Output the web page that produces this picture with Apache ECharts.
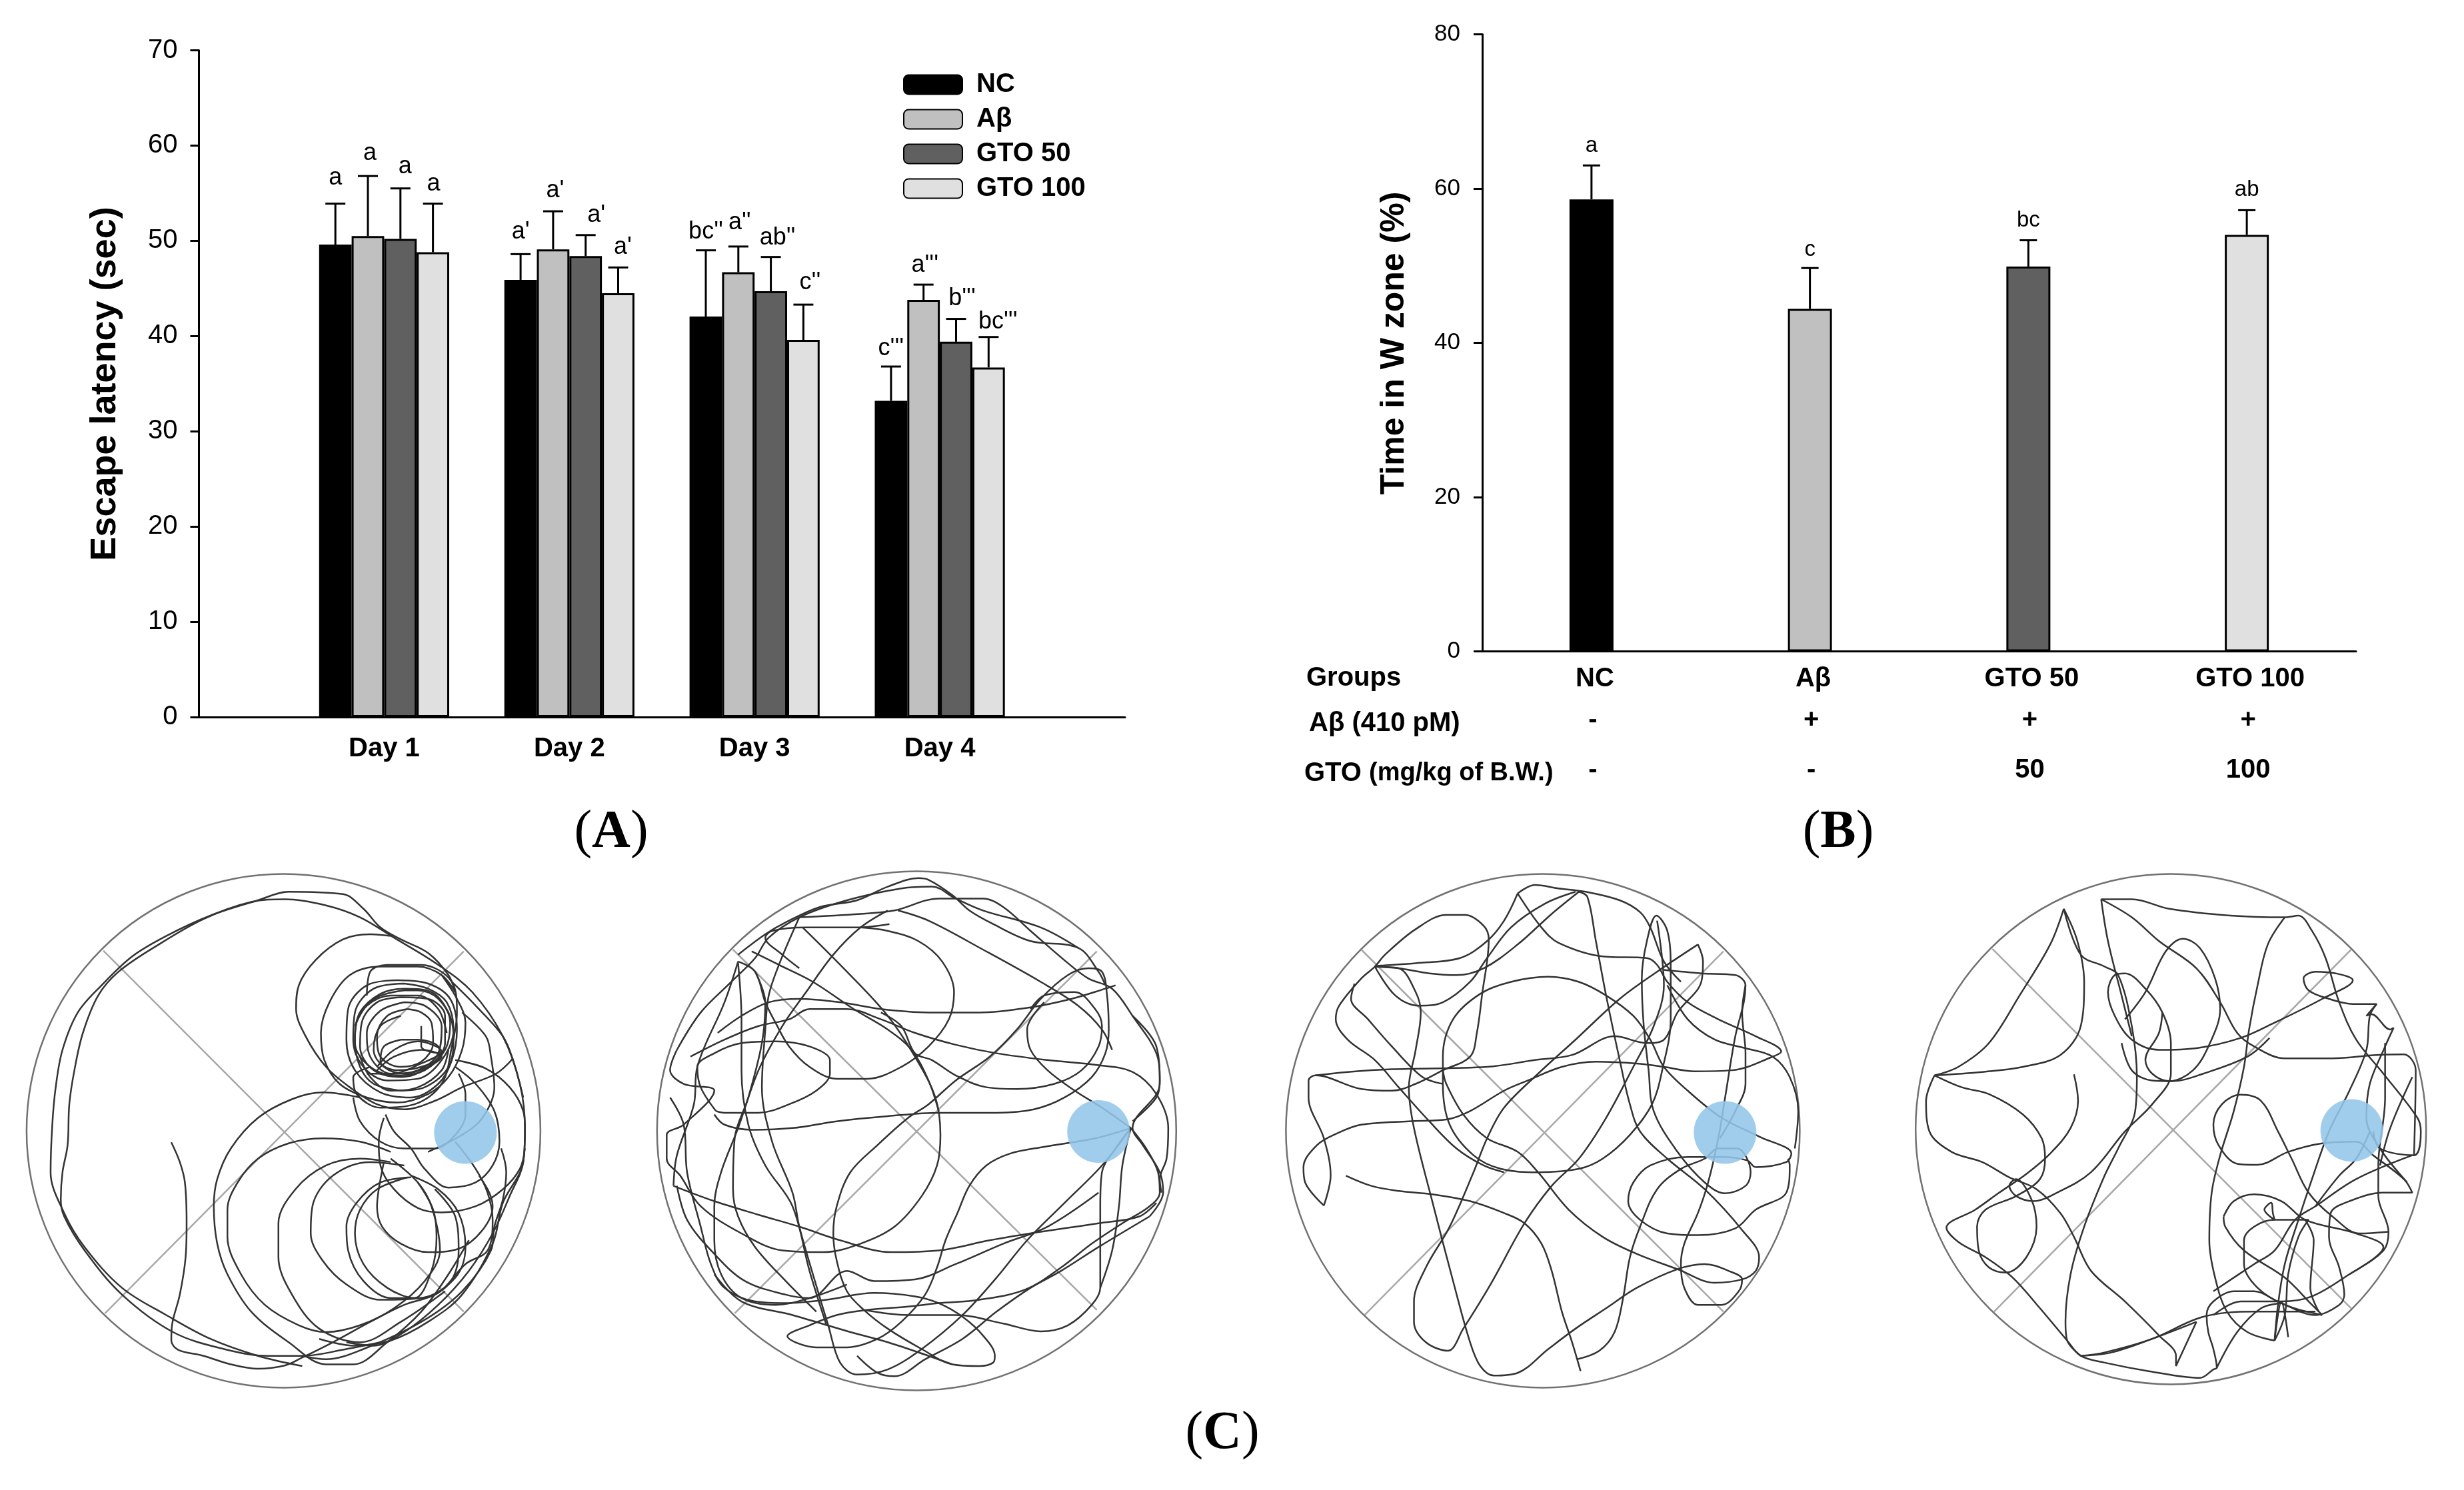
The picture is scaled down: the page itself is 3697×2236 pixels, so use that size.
<!DOCTYPE html>
<html><head><meta charset="utf-8">
<style>html,body{margin:0;padding:0;background:#fff}#c{width:3697px;height:2236px}</style>
<script src="https://cdn.jsdelivr.net/npm/echarts@6/dist/echarts.min.js"></script>
</head><body><div id="c"></div>
<script>
// ---------- Panel A data ----------
const days = ['', 'Day 1', 'Day 2', 'Day 3', 'Day 4', ''];
const groupNames = ['NC', 'Aβ', 'GTO 50', 'GTO 100'];
const latencyNC = [49.6, 45.9, 42.05, 33.2];
const latencyAb = [50.5, 49.1, 46.7, 43.8];
const latencyG50 = [50.2, 48.4, 44.7, 39.4];
const latencyG100 = [48.8, 44.5, 39.6, 36.7];
const latencyErrTopNC = [53.9, 48.6, 49.0, 36.8];
const latencyErrTopAb = [56.8, 53.1, 49.4, 45.4];
const latencyErrTopG50 = [55.5, 50.6, 48.3, 41.8];
const latencyErrTopG100 = [53.9, 47.2, 43.3, 39.9];
const lettersNC = ['a', "a'", "bc''", "c'''"];
const lettersAb = ['a', "a'", "a''", "a'''"];
const lettersG50 = ['a', "a'", "ab''", "b'''"];
const lettersG100 = ['a', "a'", "c''", "bc'''"];
const letterValNC = [56.6, 50.9, 50.9, 38.7];
const letterValAb = [59.2, 55.3, 51.9, 47.4];
const letterValG50 = [57.8, 52.7, 50.3, 43.9];
const letterValG100 = [56.0, 49.3, 45.6, 41.5];
// ---------- Panel B data ----------
const rowGroups = ['NC', 'Aβ', 'GTO 50', 'GTO 100'];
const rowAb = ['-', '+', '+', '+'];
const rowGTO = ['-', '-', '50', '100'];
const timeInZone = [58.6, 44.4, 49.9, 54.0];
const timeErrTop = [63.0, 49.7, 53.3, 57.2];
const timeLetters = ['a', 'c', 'bc', 'ab'];
const timeLetterVal = [65.5, 52.1, 55.9, 59.8];
// ---------- Panel C data: arena units are image-read track coordinates ----------
const arenaCentres = [[775, 778], [765, 778], [774, 778], [755, 773]];
const platformCentres = [[1310, 783], [1300, 780], [1310, 783], [1287, 777]];
const crossLines = [
  [[[245,248],[1305,1310]], [[1305,250],[250,1315]]],
  [[[225,245],[1295,1305]], [[1295,250],[230,1315]]],
  [[[240,245],[1305,1310]], [[1305,250],[250,1320]]],
  [[[230,243],[1285,1300]], [[1285,245],[235,1310]]]
];
const track1 = [
 [[445,812],[470,870],[485,930],[490,1050],[487,1150],[470,1260],[447,1350],[445,1395],[465,1422],[540,1440],[620,1465],[700,1478],[780,1468],[830,1445],[920,1400],[1030,1340],[1130,1290],[1230,1255],[1310,1170],[1375,1130],[1390,1040],[1375,960],[1340,890],[1280,810]],
 [[830,1470],[700,1440],[560,1390],[430,1320],[300,1240],[190,1120],[130,1020],[90,900],[95,760],[105,650],[125,540],[170,430],[240,350],[330,265],[430,205],[560,145],[700,100],[790,75],[950,82],[1010,125],[1060,180],[1120,215],[1200,255],[1260,320],[1280,370]],
 [[1060,1400],[960,1420],[830,1440],[730,1440],[600,1420],[450,1370],[300,1260],[190,1130],[130,1030],[120,980],[125,900],[140,820],[145,700],[160,600],[185,490],[230,380],[290,310],[400,235],[540,155],[680,105],[780,97],[900,115],[1000,150],[1100,210],[1230,290],[1330,370],[1420,500],[1470,640],[1485,770],[1480,870],[1440,970],[1390,1080],[1320,1190],[1230,1290],[1130,1370],[1040,1410],[960,1400]],
 [[1000,680],[890,665],[800,685],[700,740],[620,830],[580,920],[570,1000],[580,1110],[610,1200],[680,1310],[790,1400],[900,1465],[980,1465],[1080,1400],[1180,1310],[1260,1200],[1320,1100]],
 [[1090,840],[1000,810],[890,800],[790,815],[700,860],[640,930],[610,1010],[610,1090],[650,1200],[720,1290],[820,1350],[900,1370],[1000,1350],[1100,1300],[1190,1220],[1235,1130],[1210,1000],[1170,930],[1090,860]],
 [[1090,870],[1000,860],[900,880],[810,950],[760,1050],[760,1150],[800,1260],[880,1360],[1000,1400],[1120,1340],[1250,1250]],
 [[1130,880],[1030,870],[920,910],[860,1000],[855,1080],[890,1160],[960,1230],[1060,1275],[1180,1270],[1280,1210],[1310,1120],[1290,1020],[1230,950],[1150,910]],
 [[1150,915],[1060,930],[990,990],[960,1060],[965,1130],[1010,1220],[1090,1270],[1170,1270],[1260,1230],[1290,1130],[1280,1030],[1220,950]],
 [[1140,915],[1050,950],[1000,1010],[985,1080],[1010,1170],[1080,1240],[1160,1270],[1210,1190],[1225,1090],[1215,1010],[1170,930]],
 [[1070,870],[1055,950],[1050,1000],[1065,1060],[1120,1110],[1200,1135],[1290,1125],[1360,1070],[1390,1000],[1380,960],[1350,910]],
 [[1070,740],[1055,810],[1060,880],[1100,950],[1170,1005],[1240,1018],[1340,1000],[1420,950],[1470,890],[1485,830]],
 [[1075,730],[1100,780],[1150,830],[1190,890],[1260,945],[1340,930],[1390,880],[1410,810],[1395,720],[1340,640],[1280,590]],
 [[1200,840],[1300,790],[1360,740],[1395,650],[1385,560],[1370,500],[1300,430]],
 [[980,680],[1000,750],[1060,810],[1130,830],[1220,830],[1280,790],[1310,730],[1310,670],[1290,610]],
 [[1090,205],[1030,200],[950,215],[870,275],[820,350],[812,420],[840,500],[900,590],[970,650],[1050,700],[1130,715],[1220,690],[1300,650],[1400,610],[1450,565]],
 [[1280,370],[1240,320],[1170,295],[1060,295],[970,320],[910,400],[885,490],[895,570],[940,640],[1020,680],[1110,695],[1200,670],[1260,620],[1300,540],[1310,460],[1285,390],[1240,320]],
 [[1130,345],[1040,360],[985,430],[980,510],[1010,590],[1080,630],[1170,625],[1240,570],[1275,480],[1255,400],[1200,360],[1130,345]],
 [[1130,365],[1050,385],[995,440],[985,520],[1030,590],[1110,615],[1190,600],[1250,540],[1265,460],[1230,390],[1170,365],[1130,365]],
 [[1120,385],[1050,400],[1005,460],[1000,530],[1040,600],[1120,620],[1200,590],[1250,520],[1250,440],[1200,390],[1120,385]],
 [[1130,400],[1060,425],[1020,490],[1030,560],[1090,610],[1170,600],[1230,550],[1240,470],[1190,410],[1130,400]],
 [[1120,440],[1060,470],[1040,540],[1070,590],[1130,610],[1200,590],[1240,560],[1180,540],[1100,560],[1050,600]],
 [[1050,590],[1100,540],[1170,515],[1240,545],[1180,580],[1090,610],[1020,610]],
 [[1020,380],[1030,310],[1080,290],[1180,290],[1270,340],[1285,430],[1270,530],[1240,640],[1160,700],[1060,710],[990,670],[980,620],[1030,590]],
 [[1120,660],[1040,640],[1000,590],[985,510],[1000,430],[1060,375],[1130,360],[1210,370],[1260,430],[1275,500],[1260,590],[1190,650],[1120,660]],
 [[1110,335],[1020,350],[965,420],[960,510],[985,600],[1060,665],[1150,680],[1230,640],[1270,570],[1285,480],[1265,390],[1200,345],[1110,335]],
 [[1140,420],[1080,440],[1050,500],[1060,560],[1120,590],[1180,575],[1215,520],[1210,460],[1180,430],[1140,420]],
 [[1120,510],[1070,530],[1060,575],[1110,600],[1180,590],[1235,560],[1230,530],[1170,510],[1120,510]],
 [[1000,560],[1030,620],[1090,660],[1170,650],[1240,600],[1260,540]],
 [[985,470],[1020,410],[1090,380],[1170,380],[1230,420],[1255,490]],
 [[1180,470],[1180,530],[1230,550]],
 [[1280,570],[1370,595],[1440,650],[1480,720],[1485,770]],
 [[1270,340],[1340,410],[1420,500],[1450,570],[1480,680]],
 [[1485,770],[1480,870],[1420,990],[1390,1110],[1300,1260],[1200,1340],[1090,1395],[980,1410],[880,1390]],
 [[1415,830],[1430,900],[1420,980],[1395,1060],[1385,1130],[1300,1250],[1180,1340],[1010,1420],[900,1450],[830,1440]]
];
const track2 = [
 [[1395,770],[1290,800],[1140,825],[1040,845],[970,880],[920,940],[885,1020],[850,1100],[825,1180],[790,1260],[720,1340],[650,1390],[560,1415],[470,1415],[385,1382],[450,1350],[530,1320],[620,1305],[740,1295],[830,1285],[950,1275],[1085,1245],[1190,1180],[1280,1110],[1370,1050],[1450,1000],[1480,960],[1475,900],[1440,830],[1395,770]],
 [[175,720],[130,650],[120,590],[170,550],[250,520],[350,515],[450,530],[510,570],[510,610],[470,660],[390,700],[300,725],[200,725],[175,720]],
 [[685,170],[590,180],[440,180],[340,190],[320,210],[370,260],[420,300]],
 [[600,180],[680,190],[770,220],[840,280],[875,370],[860,450],[800,530],[720,590],[620,625],[530,625],[450,590],[390,530],[350,460],[320,400],[290,310],[240,280]],
 [[180,490],[250,440],[330,400],[420,390],[540,400],[660,420],[800,430],[950,430],[1100,415],[1220,390],[1320,360],[1350,350]],
 [[100,560],[200,510],[300,470],[390,450],[450,420],[560,420],[660,450],[760,490],[880,525],[1000,550],[1150,570],[1300,585],[1400,605],[1470,670],[1505,770],[1500,860],[1480,920],[1485,960]],
 [[170,730],[200,760],[280,775],[400,770],[530,750],[680,735],[830,725],[1000,725],[1110,715],[1200,680],[1280,620],[1320,550],[1330,480],[1325,380],[1310,310],[1270,300],[1210,320],[1130,390],[1060,480],[980,560],[880,630],[800,700],[740,740],[650,820],[570,900],[530,1000],[520,1080],[530,1160],[560,1250],[610,1305],[680,1360],[780,1420],[870,1465],[950,1470],[990,1460],[995,1440],[960,1380],[900,1325],[830,1285],[760,1265],[640,1255],[500,1275],[380,1285],[290,1280],[200,1240],[160,1170],[130,1060],[90,900],[80,760],[40,680]],
 [[1395,770],[1350,830],[1310,900],[1305,1000],[1305,1100],[1305,1240],[1280,1290],[1210,1350],[1130,1368],[1020,1345],[880,1320],[740,1320],[610,1305]],
 [[1395,770],[1370,880],[1360,1000],[1340,1130],[1305,1240]],
 [[1395,770],[1310,880],[1200,990],[1090,1100],[1000,1210],[900,1320],[780,1420],[680,1480],[590,1495],[540,1460],[505,1350],[460,1200],[420,1060],[400,960],[340,810],[310,650],[320,480],[330,380],[360,290],[420,150]],
 [[420,150],[600,140],[700,130],[830,95],[960,95],[1020,120],[1100,190],[1210,285],[1270,330],[1340,360],[1400,440],[1470,550],[1480,630],[1470,680],[1400,750]],
 [[240,260],[320,200],[380,165],[480,120],[590,100],[680,60],[770,35],[800,40],[870,85],[920,130],[990,170],[1100,220],[1240,240],[1300,310],[1320,350]],
 [[60,540],[130,430],[220,340],[290,270],[330,210],[420,150],[560,100],[720,65],[810,60],[880,95],[960,130],[1130,180],[1240,240]],
 [[680,130],[600,180],[520,260],[440,370],[370,470],[300,600],[240,770],[190,900],[170,1000],[170,1100],[190,1200],[250,1270],[350,1290],[450,1270],[560,1230]],
 [[430,180],[560,310],[680,440],[760,560],[820,680],[835,790],[825,880],[780,970],[700,1060],[600,1110],[490,1135],[370,1130],[250,1080],[130,1000],[70,910],[30,860],[30,790],[80,760],[170,660],[80,640],[40,600],[60,540]],
 [[50,940],[170,985],[300,1025],[420,1060],[540,1100],[690,1135],[830,1130],[980,1100],[1130,1075],[1300,1050],[1420,1030],[1470,990]],
 [[710,130],[800,160],[960,245],[1130,340],[1240,410],[1310,480],[1340,540]],
 [[1140,400],[1090,480],[1100,540],[1150,600],[1230,660],[1310,710],[1395,770]],
 [[1100,420],[1140,380],[1230,370],[1290,420],[1310,470],[1300,530],[1250,600],[1170,640],[1060,655],[970,650],[880,615],[810,570],[760,550],[720,470],[660,430]],
 [[280,250],[360,290],[460,340],[580,420],[680,480],[750,540],[800,630],[830,720]],
 [[240,285],[250,450],[250,600],[270,760],[320,880],[400,1000],[450,1190],[500,1350]],
 [[240,280],[200,400],[120,590],[110,700],[60,850],[50,940]],
 [[290,310],[320,400],[310,520],[270,680],[230,800],[225,950],[240,1030],[290,1120],[380,1220],[470,1310]],
 [[60,940],[90,1040],[170,1140],[260,1220],[380,1260],[450,1270],[560,1190],[640,1220],[760,1215],[880,1170],[1020,1110],[1150,1060],[1300,960]],
 [[170,1200],[250,1280],[400,1320],[570,1370],[680,1400],[800,1440],[870,1465]],
 [[1450,1030],[1300,1120],[1190,1190],[1100,1240],[1000,1310],[900,1390],[790,1450],[700,1500],[650,1490],[590,1440]],
 [[1400,440],[1470,530],[1480,640],[1400,770],[1430,820],[1480,900],[1490,960],[1450,1030]]
];
const track3 = [
 [[195,910],[270,940],[350,955],[450,965],[560,985],[660,1020],[720,1050],[770,1110],[800,1190],[830,1310],[860,1400],[885,1485]],
 [[875,1450],[940,1425],[985,1370],[1010,1270],[1030,1150],[1060,1060],[1110,950],[1180,890],[1250,860],[1290,830],[1345,830],[1385,900],[1370,940],[1310,962],[1250,930],[1170,840],[1100,720],[1085,600],[1070,460],[1065,330],[1080,220],[1108,145],[1140,190],[1150,300],[1150,450],[1125,600],[1095,700],[1030,790],[950,860],[880,890],[760,900],[650,890],[570,850],[500,760],[480,640],[480,560],[510,450],[590,375],[680,340],[790,325],[880,340],[960,380],[1040,440],[1090,510],[1130,590],[1200,660],[1300,740],[1410,795],[1505,845],[1490,870],[1400,885],[1375,865],[1300,855],[1200,855],[1090,880],[1040,930],[1025,985],[1060,1040],[1140,1080],[1230,1085],[1340,1065],[1400,1010],[1490,960],[1500,880],[1495,860]],
 [[130,998],[150,910],[130,800],[85,680],[85,630],[105,615],[240,655],[330,660],[400,640],[480,600],[560,560],[580,490],[595,380],[615,215],[600,175],[545,143],[490,143],[400,185],[310,260],[280,295],[240,330],[175,410],[165,450],[200,510],[280,570],[350,650],[440,750],[520,830],[600,880],[660,900]],
 [[130,998],[75,930],[70,885],[110,820],[170,785],[240,760],[380,750],[490,745],[560,720],[660,660],[730,630],[830,590],[930,575],[1050,580],[1130,590],[1220,603],[1330,600],[1450,560],[1475,545],[1400,500],[1290,450],[1200,400],[1140,340],[1110,290],[1080,270],[950,265],[820,225],[770,180],[700,80]],
 [[700,80],[660,160],[610,220],[530,270],[400,285],[280,295],[350,300],[400,370],[415,430],[400,540],[380,650],[395,770],[450,990],[510,1220],[560,1400],[590,1470],[630,1498],[700,1490],[790,1420],[870,1360],[960,1300],[1050,1240],[1170,1185],[1250,1170],[1320,1190],[1360,1215],[1350,1250],[1300,1290],[1230,1290],[1190,1240],[1180,1170],[1190,1110],[1230,1020],[1260,930],[1290,800],[1310,680],[1340,500],[1365,400],[1370,350],[1340,320],[1240,315],[1130,305]],
 [[280,295],[350,300],[440,315],[520,320],[600,300],[700,230],[800,140],[880,75]],
 [[280,295],[340,380],[410,410],[480,400],[560,340],[610,270],[680,180],[780,110],[870,75]],
 [[220,345],[210,390],[260,450],[330,530],[420,620],[480,640]],
 [[700,80],[750,55],[820,65],[900,75],[1000,100],[1060,135],[1090,180],[1130,280],[1180,340]],
 [[880,75],[905,90],[930,220],[960,380],[1000,570],[1030,700],[1060,780],[1140,860],[1250,950],[1360,1070],[1410,1150],[1400,1190],[1360,1215],[1280,1225],[1170,1185],[1050,1140],[950,1090],[850,1010],[760,900],[700,840],[610,800],[540,730],[490,640],[480,600]],
 [[1230,230],[1110,310],[1000,390],[870,510],[760,610],[660,710],[610,800],[570,900],[500,1060],[430,1180],[395,1280],[395,1340],[430,1400],[495,1425],[540,1360],[620,1230],[720,1050],[800,940],[880,860],[960,740],[1040,590],[1100,470],[1130,350],[1110,160]],
 [[1230,230],[1245,280],[1240,340],[1170,430],[1130,510],[1080,520],[985,500],[860,555],[750,570],[610,590],[330,597],[200,605],[105,615]],
 [[1140,350],[1200,450],[1280,510],[1370,535],[1450,560],[1500,620],[1525,720],[1515,830]],
 [[1370,350],[1360,430],[1370,550],[1370,640],[1340,720],[1295,800]]
];
const track4 = [
 [[470,612],[482,690],[460,770],[400,845],[330,905],[250,960],[180,1010],[95,1063],[130,1105],[210,1150],[290,1210],[370,1300],[450,1395],[490,1440],[560,1460],[690,1485],[840,1505],[880,1480],[890,1475],[880,1420],[865,1370],[860,1320],[880,1280],[940,1250],[1000,1250],[1070,1280],[1180,1320],[1250,1290],[1265,1260],[1250,1180],[1220,1090],[1225,1020],[1280,985],[1380,960],[1465,960],[1440,920],[1350,850],[1300,810],[1200,815],[1100,840],[1010,878],[950,875],[895,820],[880,760],[905,700],[960,672],[1020,690],[1070,780],[1110,860],[1160,960],[1230,1030],[1310,1080],[1395,1075]],
 [[60,615],[140,650],[220,670],[320,730],[375,800],[385,860],[370,920],[300,970],[210,1010],[185,1060],[190,1130],[220,1180],[270,1195],[330,1150],[360,1060],[345,980],[300,920],[280,940],[300,970],[350,985],[420,960],[520,900],[620,780],[700,700],[755,610],[755,520],[730,430],[680,360],[620,315],[590,320],[570,370],[590,440],[640,510],[720,540],[830,535],[960,505],[1060,460],[1200,390],[1290,335],[1240,315],[1180,310],[1145,330],[1160,365],[1220,390],[1290,405],[1360,405],[1340,440],[1330,540],[1280,660],[1220,780],[1170,920],[1130,1040],[1090,1170],[1070,1290],[1060,1395],[1090,1320],[1100,1200],[1130,1090],[1160,1040],[1060,1040],[1000,1060],[970,1100],[970,1170],[1010,1240],[1090,1290],[1200,1320]],
 [[60,615],[200,605],[320,590],[430,555],[490,470],[500,340],[480,220],[440,125],[490,260],[560,295],[600,320],[640,470],[655,620],[650,720],[600,830],[560,910],[500,1060],[460,1200],[445,1340],[450,1395],[490,1440]],
 [[60,615],[35,690],[45,780],[110,840],[200,870],[280,915],[360,950],[430,1020],[470,1090],[520,1190],[620,1280],[720,1380],[770,1440],[770,1470],[830,1340],[700,1390],[580,1430],[490,1440]],
 [[550,97],[570,220],[610,380],[640,500]],
 [[440,125],[400,230],[310,380],[220,520],[130,590],[60,615]],
 [[550,97],[640,97],[750,125],[930,145],[1090,150],[1130,145],[1170,190],[1210,270],[1250,400],[1300,510],[1380,610],[1480,740],[1490,780],[1470,850],[1370,830],[1350,780]],
 [[1090,150],[1040,230],[1010,350],[985,480],[970,590],[940,720],[900,850],[875,960],[868,1100],[885,1210],[920,1310],[980,1370],[1060,1395]],
 [[550,97],[640,150],[720,220],[830,300],[900,400],[950,490],[1000,530],[1090,565],[1230,565],[1360,555],[1440,553],[1475,600],[1470,850]],
 [[620,450],[680,370],[740,250],[790,213],[840,240],[885,330],[900,420],[870,520],[820,600],[750,632],[700,610],[680,570],[720,490],[730,430]],
 [[610,520],[640,600],[700,630],[760,632],[850,610],[980,560],[1045,505]],
 [[1360,405],[1330,440],[1345,435],[1400,480],[1410,475],[1385,530],[1340,640],[1330,740],[1370,830],[1450,930]],
 [[1385,520],[1385,680],[1365,880],[1365,970],[1395,1075],[1380,1130],[1280,1200],[1170,1265],[1080,1280],[960,1280],[880,1320]],
 [[1465,620],[1400,770],[1370,880]],
 [[1465,850],[1300,920],[1180,1000],[1120,1040],[1060,1130],[1000,1170],[880,1250]],
 [[910,1030],[940,985],[1000,965],[1080,985],[1150,1040],[1300,1080],[1380,1120],[1280,1200]],
 [[910,1030],[915,1060],[970,1130],[1090,1210],[1170,1290],[1200,1320]],
 [[1060,1040],[1030,1010],[1050,990],[1055,1020],[1060,1040]],
 [[1150,1040],[1175,1100],[1165,1240],[1190,1310]],
 [[1060,1395],[1080,1280],[1100,1385]],
 [[490,1440],[560,1430],[700,1390],[850,1325],[1000,1310],[1180,1310]],
 [[890,1475],[950,1370],[1020,1300],[1080,1285]],
 [[1340,780],[1300,860],[1250,910],[1180,1000]]
];
const allTracks = [track1, track2, track3, track4];

// ---------- Styling ----------
const SANS = '"Liberation Sans",Arial,sans-serif';
const SERIF = '"Liberation Serif","Times New Roman",serif';
const fills = ['#000000', '#c0c0c0', '#606060', '#e0e0e0'];
const barA = 48.8, barB = 66;
const letterShiftA = [[0,3,7,1],[0,3,16,7],[0,2,10,10],[0,2,9,14]];
const tickCommon = {show:true, length:13, lineStyle:{color:'#000', width:3}};
const lineCommon = {show:true, lineStyle:{color:'#000', width:3}};

const latency = [latencyNC, latencyAb, latencyG50, latencyG100];
const errTops = [latencyErrTopNC, latencyErrTopAb, latencyErrTopG50, latencyErrTopG100];
const letters = [lettersNC, lettersAb, lettersG50, lettersG100];
const letterVals = [letterValNC, letterValAb, letterValG50, letterValG100];

function whisker(x, yBase, yTop, cap) {
  return {type:'group', children:[
    {type:'line', shape:{x1:x, y1:yBase, x2:x, y2:yTop}, style:{stroke:'#000', lineWidth:3}},
    {type:'line', shape:{x1:x-cap, y1:yTop, x2:x+cap, y2:yTop}, style:{stroke:'#000', lineWidth:3}}
  ]};
}
const series = [];
groupNames.forEach((n, g) => {
  series.push({name:n, type:'bar', xAxisIndex:0, yAxisIndex:0, barWidth:barA, barGap:'0%', silent:true,
    data:[null, ...latency[g], null],
    itemStyle:{color:fills[g], borderColor:'#000', borderWidth:3}, z:3});
});
const errA = [], letA = [];
latency.forEach((vals, g) => vals.forEach((v, d) => {
  errA.push([d+1, v, errTops[g][d], g]);
  letA.push([d+1, letterVals[g][d], letters[g][d], g, d]);
}));
series.push({type:'custom', xAxisIndex:0, yAxisIndex:0, silent:true, z:4, data:errA,
  renderItem:(p, api) => {
    const off = (api.value(3)-1.5)*barA;
    const a = api.coord([api.value(0), api.value(1)]), b = api.coord([api.value(0), api.value(2)]);
    return whisker(a[0]+off, a[1], b[1], 15);
  }});
series.push({type:'custom', xAxisIndex:0, yAxisIndex:0, silent:true, z:5, data:letA,
  dimensions:['x','y',{name:'t',type:'ordinal'},'g','d'],
  renderItem:(p, api) => {
    const row = letA[p.dataIndex];
    const c = api.coord([row[0], row[1]]);
    return {type:'text', style:{x:c[0]+(row[3]-1.5)*barA+letterShiftA[row[4]][row[3]], y:c[1], text:row[2],
      fill:'#000', font:'36px '+SANS, textAlign:'center', textVerticalAlign:'middle'}};
  }});
series.push({name:'Time in W zone', type:'bar', xAxisIndex:1, yAxisIndex:1, barWidth:barB, silent:true, z:3,
  data:timeInZone.map((v,i)=>({value:v, itemStyle:{color:fills[i], borderColor:'#000', borderWidth:3}}))});
series.push({type:'custom', xAxisIndex:1, yAxisIndex:1, silent:true, z:4,
  data:timeInZone.map((v,i)=>[i, v, timeErrTop[i]]),
  renderItem:(p, api) => {
    const a = api.coord([api.value(0), api.value(1)]), b = api.coord([api.value(0), api.value(2)]);
    return whisker(a[0], a[1], b[1], 13);
  }});
series.push({type:'custom', xAxisIndex:1, yAxisIndex:1, silent:true, z:5,
  data:timeLetterVal.map((v,i)=>[i, v]),
  renderItem:(p, api) => {
    const c = api.coord([api.value(0), api.value(1)]);
    return {type:'text', style:{x:c[0], y:c[1], text:timeLetters[p.dataIndex], fill:'#000',
      font:'33px '+SANS, textAlign:'center', textVerticalAlign:'middle'}};
  }});
const arenaCrop = [30, 985, 1920, 2872];
const arenaSizes = [771, 779, 771, 766];
arenaCrop.forEach((_, k) => {
  const xi = 4+k, yi = 2+k;
  series.push({type:'scatter', xAxisIndex:xi, yAxisIndex:yi, silent:true, z:1, symbol:'circle', symbolSize:arenaSizes[k],
    data:[arenaCentres[k]], itemStyle:{color:'rgba(255,255,255,0)', borderColor:'#4d4d4d', borderWidth:2.5}});
  crossLines[k].forEach(seg => series.push({type:'line', xAxisIndex:xi, yAxisIndex:yi, silent:true, z:2, symbol:'none', data:seg,
    lineStyle:{color:'#a8a8a8', width:2.5}}));
  allTracks[k].forEach(seg => series.push({type:'line', xAxisIndex:xi, yAxisIndex:yi, silent:true, z:3, symbol:'none', smooth:0.35, data:seg,
    lineStyle:{color:'#333333', width:2.5}}));
  series.push({type:'scatter', xAxisIndex:xi, yAxisIndex:yi, silent:true, z:4, symbol:'circle', symbolSize:94,
    data:[platformCentres[k]], itemStyle:{color:'#94c6e9', opacity:0.88}});
});

const xAxes = [
  {gridIndex:0, type:'category', data:days, boundaryGap:false, axisLine:lineCommon, axisTick:{show:false},
   axisLabel:{interval:0, margin:28, color:'#000', fontFamily:SANS, fontWeight:'bold', fontSize:40}},
  {gridIndex:1, type:'category', data:rowGroups, axisLine:lineCommon, axisTick:{show:false},
   axisLabel:{interval:0, margin:21, padding:[0,0,0,10], color:'#000', fontFamily:SANS, fontWeight:'bold', fontSize:40}},
  {gridIndex:1, type:'category', data:rowAb, position:'bottom', offset:62, axisLine:{show:false}, axisTick:{show:false},
   axisLabel:{interval:0, margin:21, padding:[0,0,0,4], color:'#000', fontFamily:SANS, fontWeight:'bold', fontSize:40,
     formatter:(v,i)=>rowAb[i]}},
  {gridIndex:1, type:'category', data:rowGTO, position:'bottom', offset:137, axisLine:{show:false}, axisTick:{show:false},
   axisLabel:{interval:0, margin:21, padding:[0,0,0,4], color:'#000', fontFamily:SANS, fontWeight:'bold', fontSize:40,
     formatter:(v,i)=>rowGTO[i]}}
];
const yAxes = [
  {gridIndex:0, type:'value', min:0, max:70, interval:10, splitLine:{show:false}, axisLine:lineCommon, axisTick:tickCommon,
   axisLabel:{margin:32, color:'#000', fontFamily:SANS, fontSize:40}},
  {gridIndex:1, type:'value', min:0, max:80, interval:20, splitLine:{show:false}, axisLine:lineCommon, axisTick:tickCommon,
   axisLabel:{margin:33, color:'#000', fontFamily:SANS, fontSize:35}}
];
const grids = [
  {left:298.5, top:75.5, width:1389.5, height:1000.5},
  {left:2224, top:51.5, width:1311, height:926}
];
arenaCrop.forEach((left, k) => {
  grids.push({left, top:1300, width:800, height:800});
  xAxes.push({gridIndex:2+k, type:'value', min:0, max:1568, show:false});
  yAxes.push({gridIndex:2+k, type:'value', min:0, max:1568, inverse:true, show:false});
});

const chart = echarts.init(document.getElementById('c'), null, {renderer:'canvas', width:3697, height:2236});
chart.setOption({
  animation:false, backgroundColor:'#fff', grid:grids, xAxis:xAxes, yAxis:yAxes, series,
  legend:{orient:'vertical', left:1355, top:107, padding:0, itemWidth:88, itemHeight:29, itemGap:12, selectedMode:false,
    data:groupNames, textStyle:{color:'#000', fontFamily:SANS, fontWeight:'bold', fontSize:40, padding:[0,0,0,16]}},
  graphic:[
    {type:'text', x:158, y:576, rotation:Math.PI/2, style:{text:'Escape latency (sec)', fill:'#000', font:'bold 54px '+SANS, textAlign:'center', textVerticalAlign:'middle'}},
    {type:'text', x:2092, y:515, rotation:Math.PI/2, style:{text:'Time in W zone (%)', fill:'#000', font:'bold 50px '+SANS, textAlign:'center', textVerticalAlign:'middle'}},
    {type:'text', x:1960, y:1018, style:{text:'Groups', fill:'#000', font:'bold 40px '+SANS, textVerticalAlign:'middle'}},
    {type:'text', x:1964, y:1086, style:{text:'Aβ (410 pM)', fill:'#000', font:'bold 40px '+SANS, textVerticalAlign:'middle'}},
    {type:'text', x:1957, y:1161, style:{text:'{a|GTO }{b|(mg/kg of B.W.)}', fill:'#000', textVerticalAlign:'middle',
      rich:{a:{font:'bold 40px '+SANS, fill:'#000'}, b:{font:'bold 38px '+SANS, fill:'#000'}}}},
    {type:'text', x:917, y:1250, style:{text:'({b|A})', fill:'#000', font:'80px '+SERIF, textAlign:'center', textVerticalAlign:'middle', rich:{b:{font:'bold 80px '+SERIF, fill:'#000'}}}},
    {type:'text', x:2758, y:1250, style:{text:'({b|B})', fill:'#000', font:'80px '+SERIF, textAlign:'center', textVerticalAlign:'middle', rich:{b:{font:'bold 80px '+SERIF, fill:'#000'}}}},
    {type:'text', x:1834, y:2152, style:{text:'({b|C})', fill:'#000', font:'80px '+SERIF, textAlign:'center', textVerticalAlign:'middle', rich:{b:{font:'bold 80px '+SERIF, fill:'#000'}}}}
  ]
});
</script></body></html>
